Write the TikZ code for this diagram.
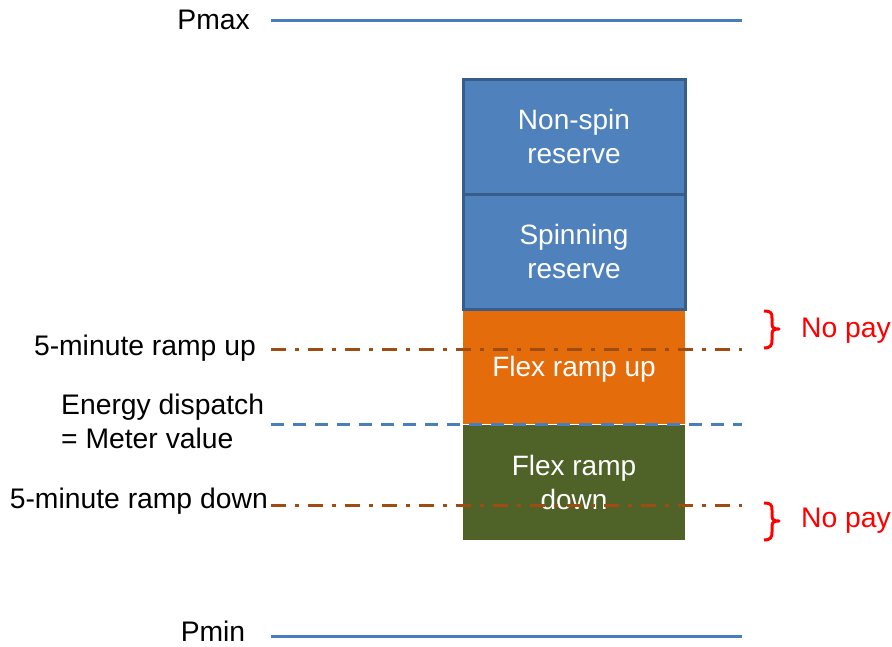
\documentclass[tikz,border=0pt]{standalone}
\usepackage{fontspec}
\setmainfont{Liberation Sans}
\definecolor{lineblue}{HTML}{4A7EBB}
\definecolor{boxblue}{HTML}{4F81BD}
\definecolor{boxborder}{HTML}{385D8A}
\definecolor{flexorange}{HTML}{E46C0A}
\definecolor{flexgreen}{HTML}{4F6228}
\definecolor{rampbrown}{HTML}{9E4C12}
\definecolor{nopayred}{HTML}{FF0000}
\begin{document}
\begin{tikzpicture}[x=1pt,y=-1pt,
  lbl/.style={font=\fontsize{28.3}{34}\selectfont, text=black, inner sep=0pt, align=left},
  boxtxt/.style={font=\fontsize{28}{34}\selectfont, text=white, align=center, inner sep=0pt, minimum width=222pt},
  resbox/.style={boxtxt, draw=boxborder, line width=3pt, fill=boxblue, minimum height=115pt},
  flexbox/.style={boxtxt, minimum height=115pt},
  limitline/.style={draw=lineblue, line width=3pt},
  rampline/.style={draw=rampbrown, line width=3pt, dash pattern=on 15pt off 9pt on 4pt off 9pt},
  displine/.style={draw=lineblue, line width=3pt, dash pattern=on 13pt off 9pt},
  brace/.style={draw=nopayred, line width=3pt, line join=round},
  nopay/.style={font=\fontsize{28.3}{34}\selectfont, text=nopayred, inner sep=0pt, anchor=west}
]
\useasboundingbox (0,0) rectangle (892,646);

% limit lines
\node[lbl, anchor=base east] (pmax) at (250,29) {Pmax};
\coordinate (pmaxa) at (271,20);
\coordinate (pmaxb) at (742,20);
\draw[limitline] (pmaxa) -- (pmaxb);

\node[lbl, anchor=base] (pmin) at (213,641) {Pmin};
\coordinate (pmina) at (271,636);
\coordinate (pminb) at (742,636);
\draw[limitline] (pmina) -- (pminb);

% stacked boxes
\node[flexbox, fill=flexorange] (flexup) at (574,366.5) {};
\node[boxtxt] (flexuptxt) at (574,369) {Flex ramp up};
\node[flexbox, fill=flexgreen] (flexdown) at (574,482) {Flex ramp\\down};
\node[resbox] (spin) at (574,251.5) {Spinning\\reserve};
\node[resbox] (nonspin) at (574,136.5) {Non-spin\\reserve};

% dispatch and ramp lines
\coordinate (upa) at (271,349);
\coordinate (upb) at (742,349);
\draw[rampline] (upa) -- (upb);
\node[lbl, anchor=east] (uplbl) at (256,348) {5-minute ramp up};

\coordinate (dispa) at (271,424);
\coordinate (dispb) at (742,424);
\draw[displine] (dispa) -- (dispb);
\node[lbl, anchor=west] (displbl) at (61,421) {Energy dispatch\\= Meter value};

\coordinate (downa) at (271,505);
\coordinate (downb) at (742,505);
\draw[rampline] (downa) -- (downb);
\node[lbl, anchor=east] (downlbl) at (268,501) {5-minute ramp down};

% braces
\coordinate (b1) at (764,311);
\draw[brace] (b1) .. controls (771,311) and (772,313) .. (772,318)
  -- (772,324) .. controls (772,328) and (774,329) .. (779,329)
  .. controls (774,329) and (772,330) .. (772,334)
  -- (772,340) .. controls (772,345) and (771,348) .. (764,348);
\node[nopay] (np1) at (801,331) {No pay};

\coordinate (b2) at (764,503);
\draw[brace] (b2) .. controls (771,503) and (772,505) .. (772,510)
  -- (772,516) .. controls (772,520) and (774,521) .. (779,521)
  .. controls (774,521) and (772,522) .. (772,526)
  -- (772,532) .. controls (772,537) and (771,540) .. (764,540);
\node[nopay] (np2) at (801,521) {No pay};
\end{tikzpicture}
\end{document}
